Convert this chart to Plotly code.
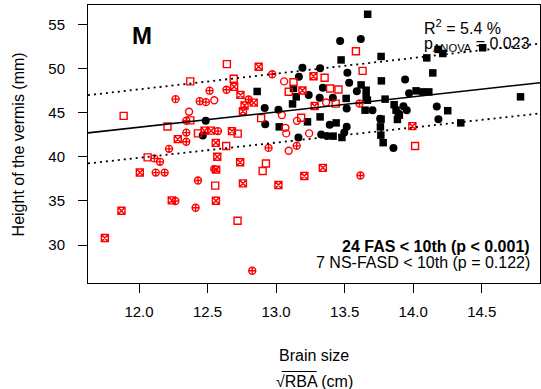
import plotly.graph_objects as go

# ---------------- data ----------------
blk_circ_x = [12.487, 12.465, 12.917, 12.921, 13.017, 13.163, 13.192, 13.166, 13.238, 13.467,
              13.618, 13.321, 13.520, 13.533, 13.941, 13.341, 13.318, 13.414, 13.589, 13.970,
              13.515, 13.703, 13.929, 13.953, 14.172, 14.184, 13.759, 13.391, 13.515, 13.329,
              13.370, 13.497, 13.856, 13.892]
blk_circ_y = [44.06, 42.39, 45.53, 43.69, 45.33, 42.18, 50.08, 49.06, 47.00, 53.11,
              53.34, 50.02, 49.51, 48.38, 48.74, 47.82, 46.69, 46.69, 47.42, 47.19,
              45.47, 45.27, 45.72, 45.27, 45.69, 44.23, 44.31, 43.63, 43.38, 42.52,
              42.36, 42.73, 40.99, 44.90]

blk_sq_x = [13.668, 13.474, 13.766, 14.099, 14.182, 14.216, 14.507, 14.143, 12.862, 13.127,
            13.147, 13.120, 13.023, 13.620, 13.768, 13.657, 14.021, 14.071, 14.114, 13.511,
            13.657, 13.795, 14.783, 13.666, 13.649, 13.861, 13.875, 13.899, 13.885, 14.252,
            14.347, 13.321, 13.229, 13.438, 13.766, 13.761, 13.764, 13.781, 13.416, 13.480]
blk_sq_y = [56.13, 50.96, 51.35, 51.19, 52.15, 51.69, 52.34, 49.49, 47.39, 47.73,
            46.78, 45.98, 43.38, 48.13, 48.59, 47.53, 47.46, 47.34, 47.34, 46.60,
            46.74, 46.52, 46.78, 46.40, 45.27, 45.89, 45.27, 44.71, 44.22, 45.21,
            43.83, 44.51, 43.95, 43.83, 44.25, 43.38, 42.44, 41.59, 42.33, 42.18]

red_sq_x = [11.888, 12.641, 12.374, 12.691, 12.374, 12.208, 12.430, 12.720, 12.636, 12.891,
            13.092, 13.127, 13.183, 12.063, 12.556, 12.902, 12.926, 12.719, 13.582, 13.631,
            13.354, 13.394, 13.455, 13.435, 14.014]
red_sq_y = [44.63, 50.48, 48.53, 48.83, 44.11, 43.43, 42.64, 42.61, 41.22, 44.37,
            47.36, 48.44, 44.42, 39.92, 36.73, 38.39, 39.24, 32.75, 51.95, 49.72,
            48.95, 47.73, 47.61, 46.01, 41.22]

red_circ_x = [12.549, 12.365, 13.059, 13.042, 13.068, 13.074, 13.152, 13.092, 13.241, 13.365]
red_circ_y = [46.40, 45.10, 48.53, 44.71, 43.27, 42.64, 44.06, 40.67, 42.64, 46.14]

red_cplus_x = [12.972, 12.515, 12.638, 12.267, 12.443, 12.488, 12.800, 12.345, 12.345, 12.345,
               12.219, 12.576, 12.945, 13.150, 12.112, 12.153, 12.122, 12.187, 12.549, 12.430,
               12.265, 12.413, 12.826, 13.608, 13.615]
red_cplus_y = [49.34, 47.48, 47.59, 46.52, 46.29, 46.18, 46.48, 44.08, 42.73, 41.69,
               40.89, 42.90, 41.00, 41.23, 39.81, 39.42, 38.20, 38.20, 38.60, 37.30,
               34.98, 34.22, 27.09, 46.03, 37.88]

red_sqx_x = [12.873, 12.694, 12.740, 12.837, 12.770, 12.758, 12.478, 12.526, 12.678, 12.283,
             12.560, 12.571, 12.738, 12.006, 12.563, 12.758, 13.017, 12.239, 12.561, 11.872,
             11.751, 13.192, 13.273, 13.281, 13.206, 13.341, 13.994]
red_sqx_y = [50.19, 47.91, 47.00, 46.12, 45.80, 45.16, 42.95, 42.95, 42.90, 41.99,
             41.57, 39.99, 39.37, 38.22, 38.54, 36.98, 36.79, 35.06, 35.01, 33.88,
             30.79, 47.50, 49.12, 45.75, 37.81, 38.74, 43.46]

# regression line and prediction band (end points at the plot edges)
fit_x = [11.628, 14.925]
fit_mid = [42.70, 48.38]
fit_upper = [46.97, 52.82]
fit_lower = [39.24, 44.90]

x_ticks = [12.0, 12.5, 13.0, 13.5, 14.0, 14.5]
x_ticklabels = ["12.0", "12.5", "13.0", "13.5", "14.0", "14.5"]
y_ticks = [30, 35, 40, 45, 50, 55]

# ---------------- figure ----------------
RED = "#FF0000"
FONT = "Liberation Sans, Arial, sans-serif"

fig = go.Figure()

fig.add_trace(go.Scatter(x=blk_circ_x, y=blk_circ_y, mode="markers",
                         marker=dict(symbol="circle", size=8, color="black", line=dict(width=0))))
fig.add_trace(go.Scatter(x=blk_sq_x, y=blk_sq_y, mode="markers",
                         marker=dict(symbol="square", size=7.5, color="black", line=dict(width=0))))

for xs, ys, sym in [(red_sq_x, red_sq_y, "square-open"),
                    (red_circ_x, red_circ_y, "circle-open"),
                    (red_cplus_x, red_cplus_y, "circle-cross-open"),
                    (red_sqx_x, red_sqx_y, "square-x-open")]:
    fig.add_trace(go.Scatter(x=xs, y=ys, mode="markers",
                             marker=dict(symbol=sym, size=7, color=RED,
                                         line=dict(width=1.4, color=RED))))

fig.add_trace(go.Scatter(x=fit_x, y=fit_mid, mode="lines",
                         line=dict(color="black", width=1.6)))
for yy in (fit_upper, fit_lower):
    fig.add_trace(go.Scatter(x=fit_x, y=yy, mode="lines",
                             line=dict(color="black", width=1.8, dash="2px,4px")))

axis_common = dict(showline=True, linecolor="black", linewidth=1, mirror=True,
                   showgrid=False, zeroline=False, ticks="outside", ticklen=9,
                   tickcolor="black", tickwidth=1,
                   tickfont=dict(family=FONT, size=15, color="black"))

fig.update_xaxes(range=[11.628, 14.925], tickvals=x_ticks, ticktext=x_ticklabels,
                 ticklabelstandoff=6, **axis_common)
fig.update_yaxes(range=[25.70, 57.18], tickvals=y_ticks, ticklabelstandoff=10, **axis_common)

ann_font = dict(family=FONT, size=16, color="black")
annotations = [
    dict(x=0.120, y=0.891, text="<b>M</b>", font=dict(family=FONT, size=24, color="black"),
         xanchor="center", yanchor="middle"),
    dict(x=0.7385, y=0.921, text="R<sup>2</sup> = 5.4 %", font=ann_font,
         xanchor="left", yanchor="middle"),
    dict(x=0.7385, y=0.858, text="p<sub>ANOVA</sub> = 0.023", font=ann_font,
         xanchor="left", yanchor="middle"),
    dict(x=0.982, y=0.133, text="<b>24 FAS &lt; 10th (p &lt; 0.001)</b>", font=ann_font,
         xanchor="right", yanchor="middle"),
    dict(x=0.982, y=0.073, text="7 NS-FASD &lt; 10th (p = 0.122)", font=ann_font,
         xanchor="right", yanchor="middle"),
    dict(x=0.5, y=-0.260, text="Brain size", font=ann_font, xanchor="center", yanchor="middle"),
    dict(x=0.5, y=-0.3536, text="√RBA (cm)", font=ann_font, xanchor="center", yanchor="middle"),
    dict(x=-0.154, y=0.5, text="Height of the vermis (mm)", font=ann_font, textangle=-90,
         xanchor="center", yanchor="middle"),
]
for a in annotations:
    a.update(xref="paper", yref="paper", showarrow=False)

fig.update_layout(
    width=541, height=389,
    margin=dict(l=88, r=1, t=5, b=106),
    plot_bgcolor="white", paper_bgcolor="white",
    showlegend=False,
    annotations=annotations,
    shapes=[dict(type="line", xref="paper", yref="paper",
                 x0=0.4285, x1=0.5059, y0=-0.3184, y1=-0.3184,
                 line=dict(color="black", width=1))],
)

fig.write_html("out.html", config={"displayModeBar": False},
               post_script="document.body.style.margin='0';document.body.style.overflow='hidden';")
